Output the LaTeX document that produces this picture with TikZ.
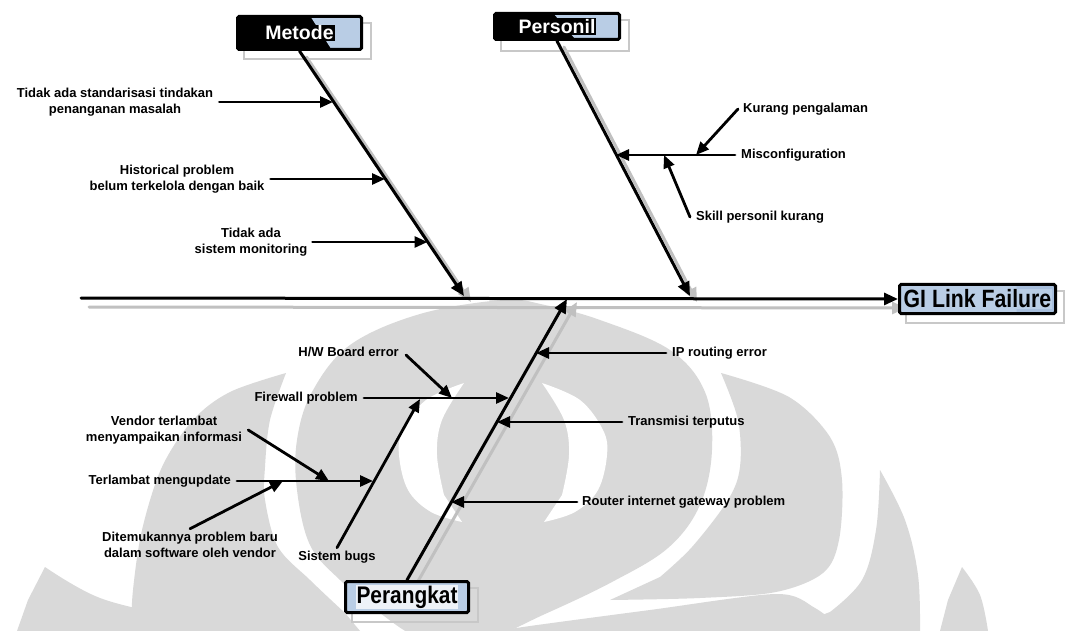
\documentclass[tikz,border=0pt]{standalone}
\usepackage{fontspec}
\usepackage{graphicx}
\setmainfont{Liberation Sans}
\usetikzlibrary{arrows.meta}
\definecolor{boxblue}{HTML}{B9CDE5}
\definecolor{boxbluedark}{HTML}{A7BEDC}
\definecolor{shadowgrey}{HTML}{C0C0C0}
\definecolor{boxghost}{HTML}{C8C8C8}
\definecolor{wmgrey}{HTML}{D9D9D9}
\definecolor{paleblue}{HTML}{EEF2F8}
\setlength\fboxsep{1pt}
\pgfdeclarelayer{wm}
\pgfdeclarelayer{bg}
\pgfsetlayers{wm,bg,main}

\begin{document}
\begin{tikzpicture}[x=1pt,y=-1pt,
  bone/.style={line width=3pt,line cap=round,-{Triangle[length=14pt,width=12pt]}},
  boneshadow/.style={bone,draw=shadowgrey},
  twig/.style={line width=2.8pt,line cap=round,-{Triangle[length=13pt,width=11pt]}},
  cause/.style={font=\fontsize{13}{16.5}\selectfont\bfseries,align=center,inner sep=0pt},
  headbox/.style={draw=black,line width=3pt,rounded corners=1.5pt,inner sep=0pt},
  ghostbox/.style={draw=boxghost,line width=1.5pt},
]
\useasboundingbox (0,0) rectangle (1066,631);

% ---------- faint emblem in the background ----------
\begin{pgfonlayer}{wm}
\fill[white] (0,0) rectangle (1066,631);
% left outer leaf
\fill[wmgrey] plot[smooth, tension=0.55] coordinates {(286,373) (230,392) (193,420) (162,467) (142,530) (133,590) (131,631)}
  -- (360,631) -- plot[smooth, tension=0.55] coordinates {(345,613) (310,580) (278,547) (265,500) (265,467) (270,420) (286,373)} -- cycle;
% central flame
\fill[wmgrey] plot[smooth cycle, tension=0.6] coordinates {(503,300) (545,305) (600,320) (670,350) (705,392) (712,450) (700,505) (668,548) (612,582) (545,614) (472,645) (420,638) (380,613) (340,580) (310,545) (297,490) (297,440) (312,392) (350,345) (420,314)};
% white crescents around the core
\fill[white] plot[smooth, tension=0.6] coordinates {(542,383) (580,400) (603,430) (607,455) (598,490) (575,512) (544,522)}
  -- plot[smooth, tension=0.6] coordinates {(562,495) (569,455) (564,420) (542,383)} -- cycle;
\fill[white] plot[smooth, tension=0.6] coordinates {(464,383) (426,400) (403,430) (399,455) (408,490) (431,512) (462,522)}
  -- plot[smooth, tension=0.6] coordinates {(444,495) (437,455) (442,420) (464,383)} -- cycle;
% right outer leaf
\fill[wmgrey] plot[smooth, tension=0.55] coordinates {(721,373) (789,397) (830,437) (842,480) (839,540) (823,573) (776,592) (700,598) (610,600)}
  -- plot[smooth, tension=0.55] coordinates {(660,577) (692,547) (728,500) (740,467) (738,420) (721,373)} -- cycle;
% lower strip
\fill[wmgrey] plot[smooth, tension=0.5] coordinates {(500,631) (530,626) (650,610) (776,594) (815,608) (845,631)} -- cycle;
% right leaf
\fill[wmgrey] plot[smooth, tension=0.6] coordinates {(880,470) (905,520) (918,575) (920,631)}
  -- (780,631) -- plot[smooth, tension=0.6] coordinates {(830,612) (862,580) (876,530) (880,470)} -- cycle;
% far leaves
\fill[wmgrey] plot[smooth, tension=0.6] coordinates {(962,567) (980,595) (988,631)} -- (940,631) -- plot[smooth, tension=0.6] coordinates {(948,600) (962,567)} -- cycle;
\fill[wmgrey] plot[smooth, tension=0.6] coordinates {(45,567) (100,598) (180,618) (235,631)} -- (17,631) -- plot[smooth, tension=0.6] coordinates {(28,600) (45,567)} -- cycle;
\end{pgfonlayer}

% ---------- head boxes ----------
\node[headbox, minimum width=124pt, minimum height=33pt, fill=black,
  path picture={\fill[boxblue] ([xshift=-51pt]path picture bounding box.north east) -- (path picture bounding box.north east)
     -- (path picture bounding box.south east) -- ([xshift=-30pt]path picture bounding box.south east) -- cycle;}]
  (mt) at (299.5,33) {\colorbox{black}{\color{white}\fontsize{19.5}{20}\selectfont\bfseries Metode}};
\node[headbox, minimum width=125pt, minimum height=26pt, fill=black,
  path picture={\fill[boxblue] ([xshift=-66pt]path picture bounding box.north east) -- (path picture bounding box.north east)
     -- (path picture bounding box.south east) -- ([xshift=-44pt]path picture bounding box.south east) -- cycle;}]
  (ps) at (557,26.5) {\colorbox{black}{\color{white}\fontsize{19.5}{20}\selectfont\bfseries Personil}};
\node[headbox, minimum width=156pt, minimum height=29pt, fill=boxblue,
  path picture={\fill[boxbluedark] ([xshift=-39pt]path picture bounding box.north east) rectangle (path picture bounding box.south east);}]
  (gi) at (977.5,299) {\colorbox{boxblue}{\scalebox{0.85}[1]{\fontsize{25}{26}\selectfont\bfseries GI Link Failure}}};
\node[headbox, minimum width=123pt, minimum height=31pt, fill=boxblue]
  (pr) at (407,597) {\colorbox{paleblue}{\scalebox{0.87}[1]{\fontsize{24}{25}\selectfont\bfseries Perangkat}}};

% ---------- spine and main bones ----------
\coordinate (tail) at (81,298);
\coordinate (mtip) at (464,296);
\coordinate (ptip) at (690,296);
\coordinate (prtip) at (567,299);
\draw[bone] (tail) -- (gi.west);
\draw[bone] (mt.south) -- (mtip);
\draw[bone] (ps.south) -- (ptip);
\draw[bone] (pr.north) -- (prtip);

% ---------- Metode causes ----------
\node[cause] (m1) at (115,102) {Tidak ada standarisasi tindakan\\penanganan masalah};
\node[cause] (m2) at (177,179) {Historical problem\\belum terkelola dengan baik};
\node[cause] (m3) at (251,242) {Tidak ada\\sistem monitoring};
\coordinate (m1b) at (333,102);
\coordinate (m2b) at (385,179);
\coordinate (m3b) at (427.5,242);
\draw[twig] ([xshift=6pt]m1.east) -- (m1b);
\draw[twig] ([xshift=6pt]m2.east) -- (m2b);
\draw[twig] ([xshift=5pt]m3.east) -- (m3b);

% ---------- Personil causes ----------
\node[cause, anchor=west] (mis) at (741,155) {Misconfiguration};
\node[cause, anchor=west] (kur) at (743,109) {Kurang pengalaman};
\node[cause, anchor=west] (skl) at (696,217) {Skill personil kurang};
\coordinate (misb) at (616,155);
\coordinate (kurb) at (696,155);
\coordinate (sklb) at (664,155);
\draw[twig] ([xshift=-6pt]mis.west) -- (misb);
\draw[twig] ([xshift=-5pt]kur.west) -- (kurb);
\draw[twig] ([xshift=-6pt]skl.west) -- (sklb);

% ---------- Perangkat causes ----------
\node[cause, anchor=west] (ipr) at (672,353) {IP routing error};
\node[cause, anchor=west] (trs) at (628,422) {Transmisi terputus};
\node[cause, anchor=west] (rtr) at (582,502) {Router internet gateway problem};
\coordinate (iprb) at (536,353);
\coordinate (trsb) at (497,422);
\coordinate (rtrb) at (451,502);
\draw[twig] ([xshift=-6pt]ipr.west) -- (iprb);
\draw[twig] ([xshift=-6pt]trs.west) -- (trsb);
\draw[twig] ([xshift=-5pt]rtr.west) -- (rtrb);

\node[cause, anchor=east] (fw) at (358,398) {Firewall problem};
\coordinate (fwb) at (509,398);
\draw[twig] ([xshift=6pt]fw.east) -- (fwb);
\node[cause, anchor=east] (hw) at (399,352) {H/W Board error};
\coordinate (hwb) at (452,398);
\draw[twig] ([xshift=7pt,yshift=-3pt]hw.east) -- (hwb);

\node[cause] (sb) at (337,557) {Sistem bugs};
\coordinate (sbb) at (420,399);
\draw[twig] ([yshift=3pt]sb.north) -- (sbb);

\node[cause, anchor=east] (tm) at (231,481) {Terlambat mengupdate};
\coordinate (tmb) at (373,481);
\draw[twig] ([xshift=6pt]tm.east) -- (tmb);
\node[cause] (vd) at (164,430) {Vendor terlambat\\menyampaikan informasi};
\coordinate (vdb) at (329,481);
\draw[twig] ([xshift=6pt]vd.east) -- (vdb);
\node[cause] (dt) at (190,545) {Ditemukannya problem baru\\dalam software oleh vendor};
\coordinate (dtb) at (283,481);
\draw[twig] ([yshift=3pt]dt.north) -- (dtb);

% ---------- shadows behind the main lines and boxes ----------
\begin{pgfonlayer}{bg}
\draw[boneshadow] ([shift={(8,9)}]tail) -- ([shift={(8,9)}]gi.west);
\draw[boneshadow] ([shift={(7,6)}]mt.south) -- ([shift={(7,6)}]mtip);
\draw[boneshadow] ([shift={(7,6)}]ps.south) -- ([shift={(7,6)}]ptip);
\draw[boneshadow] ([shift={(10,3)}]pr.north) -- ([shift={(10,3)}]prtip);
\draw[ghostbox] ([shift={(8,8)}]mt.north west) rectangle ([shift={(8,8)}]mt.south east);
\draw[ghostbox] ([shift={(8,8)}]ps.north west) rectangle ([shift={(8,10)}]ps.south east);
\draw[ghostbox] ([shift={(8,8)}]gi.north west) rectangle ([shift={(7,8)}]gi.south east);
\draw[ghostbox] ([shift={(8,8)}]pr.north west) rectangle ([shift={(8,8)}]pr.south east);
\end{pgfonlayer}
\end{tikzpicture}
\end{document}
